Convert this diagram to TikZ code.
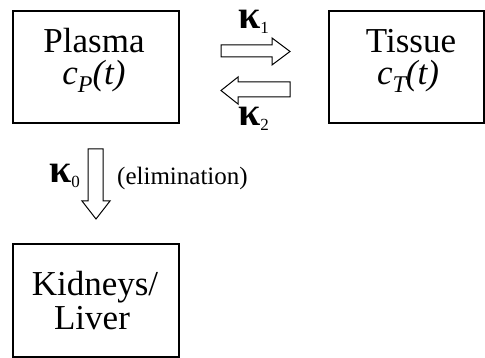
\documentclass[tikz,border=0pt]{standalone}
\usepackage{fontspec}
\setmainfont{Liberation Serif}
\begin{document}
\begin{tikzpicture}[x=1pt,y=-1pt,
  box/.style={draw, line width=1.3pt, inner sep=0pt},
  big/.style={font=\fontsize{35}{35}\selectfont, inner sep=0pt},
  arr/.style={draw, line width=1pt, fill=white, line join=miter},
  kap/.style={font=\fontsize{40}{40}\selectfont\bfseries, inner sep=0pt, text height=16pt, text depth=6pt},
  small/.style={font=\fontsize{25}{25}\selectfont, inner sep=0pt}]
\useasboundingbox (0,0) rectangle (485,358);
% boxes
\node[box, minimum width=166pt, minimum height=112pt] (plasma) at (96,67) {};
\node[box, minimum width=155pt, minimum height=112pt] (tissue) at (406.5,67) {};
\node[box, minimum width=166pt, minimum height=113pt] (kidney) at (96,300.5) {};
% box texts
\node[big, anchor=base] (tp1) at (94,53) {Plasma};
\node[big, anchor=base] (tp2) at (94,85) {\itshape c\raisebox{-8pt}{\fontsize{24}{24}\selectfont P}(t)};
\node[big, anchor=base] (tt1) at (411,53) {Tissue};
\node[big, anchor=base] (tt2) at (408,85) {\itshape c\raisebox{-8pt}{\fontsize{24}{24}\selectfont T}(t)};
\node[big, anchor=base] (tk1) at (95,296) {Kidneys/};
\node[big, anchor=base] (tk2) at (92,330) {Liver};
% block arrows
\draw[arr] (221,45) -- (272,45) -- (272,38) -- (290,51.5) -- (272,65) -- (272,57) -- (221,57) -- cycle;
\draw[arr] (290,82) -- (238,82) -- (238,77) -- (221,90.5) -- (238,104) -- (238,97) -- (290,97) -- cycle;
\draw[arr] (88,149) -- (88,201) -- (82,201) -- (96,219) -- (110,201) -- (103,201) -- (103,149) -- cycle;
% labels
\node[kap, anchor=base west] (k1) at (238,29) {κ\raisebox{-5pt}{\fontsize{17}{17}\selectfont\mdseries 1}};
\node[kap, anchor=base west] (k2) at (238,126) {κ\raisebox{-5pt}{\fontsize{17}{17}\selectfont\mdseries 2}};
\node[kap, anchor=base west] (k0) at (49,183) {κ\raisebox{-5pt}{\fontsize{17}{17}\selectfont\mdseries 0}};
\node[small, anchor=base west] (elim) at (117,185) {(elimination)};
\end{tikzpicture}
\end{document}
